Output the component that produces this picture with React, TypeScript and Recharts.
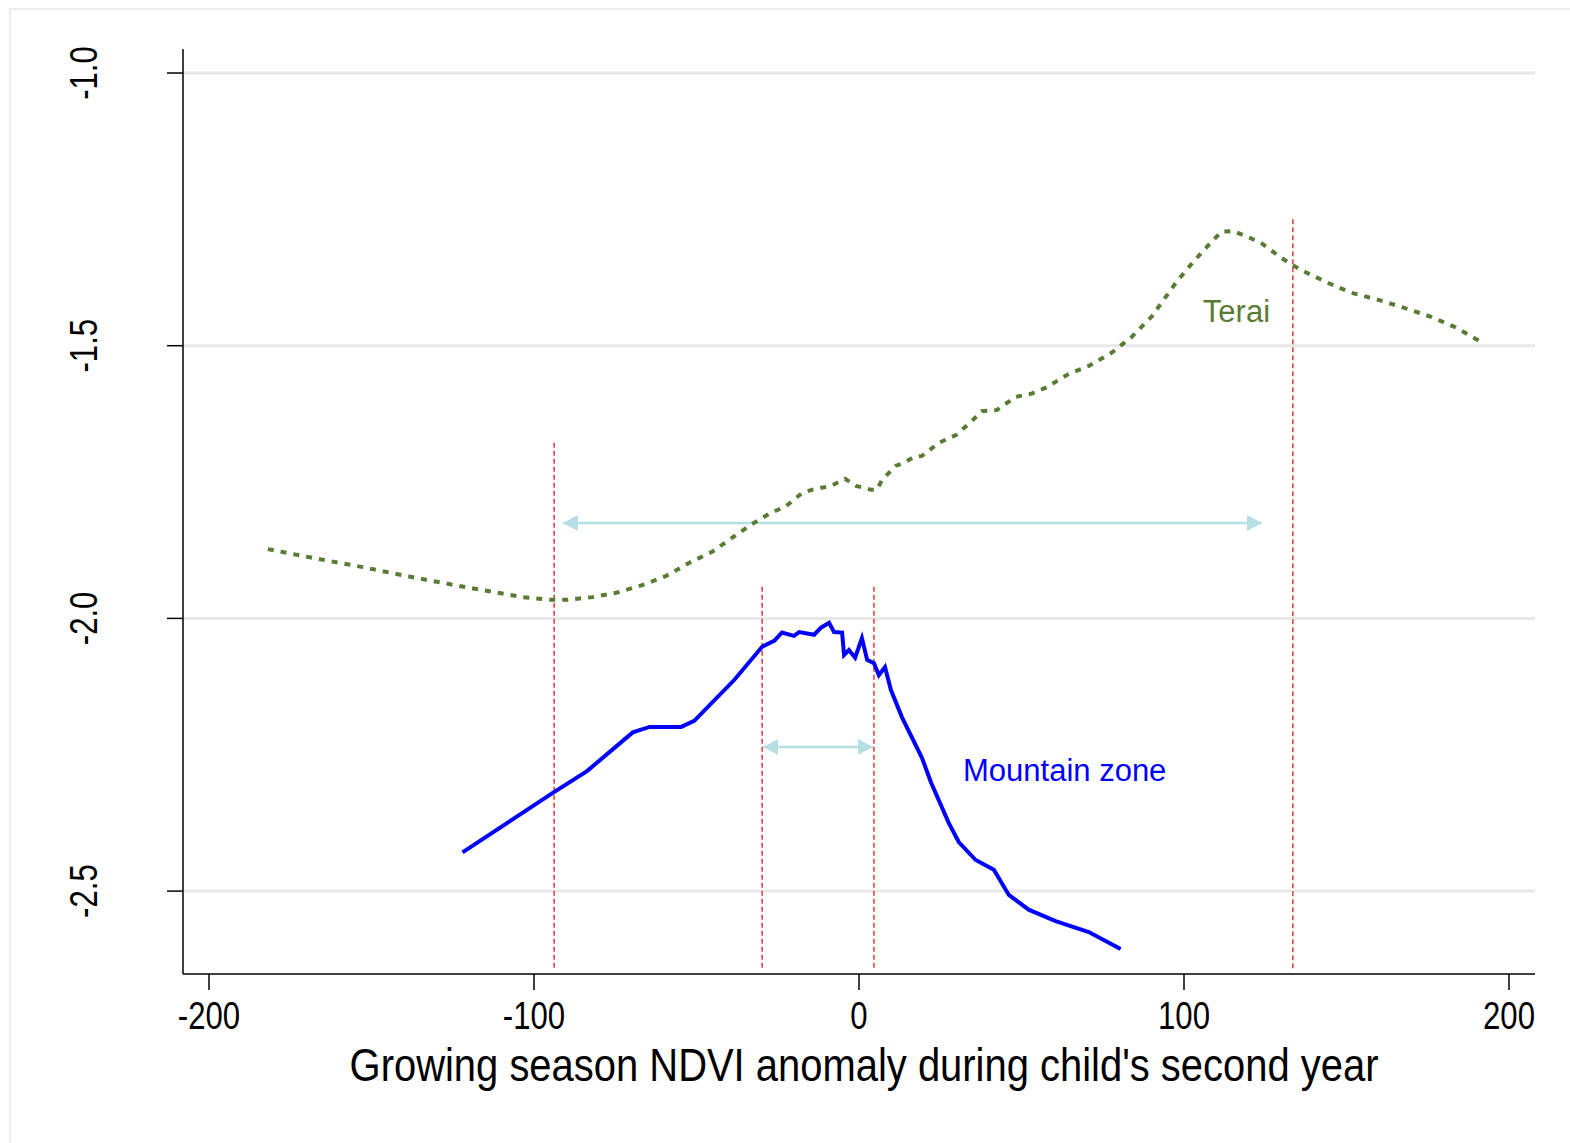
import React from "react";
import {
  LineChart,
  Line,
  XAxis,
  YAxis,
  ReferenceLine,
  ReferenceDot,
} from "recharts";

// NDVI anomaly (x) and fitted outcome (y)
const teraiX = [
  -181.9, -169.0, -152.7, -136.1, -119.8, -103.5, -95.2, -90.0, -82.0, -74.7,
  -66.7, -59.3, -52.2, -45.2, -39.0, -32.9, -27.6, -22.4, -17.5, -14.4, -8.6,
  -4.3, -0.9, 3.7, 5.5, 7.1, 11.4, 13.8, 16.9, 19.4, 24.6, 29.8, 34.4, 37.8,
  42.4, 48.2, 53.1, 57.5, 64.5, 70.7, 77.7, 83.9, 90.0, 97.7, 102.9, 108.4,
  111.5, 115.2, 119.8, 123.8, 130.0, 133.3, 137.3, 144.4, 151.5, 159.8, 168.0,
  176.0, 183.4, 191.4,
];
const teraiY = [
  -1.873, -1.888, -1.906, -1.926, -1.944, -1.961, -1.966, -1.966, -1.961,
  -1.953, -1.939, -1.922, -1.898, -1.878, -1.852, -1.827, -1.808, -1.794,
  -1.77, -1.764, -1.757, -1.744, -1.757, -1.764, -1.764, -1.746, -1.72, -1.715,
  -1.704, -1.702, -1.678, -1.664, -1.64, -1.62, -1.618, -1.594, -1.588, -1.577,
  -1.552, -1.537, -1.513, -1.484, -1.447, -1.383, -1.346, -1.31, -1.291, -1.29,
  -1.301, -1.312, -1.339, -1.352, -1.365, -1.385, -1.403, -1.416, -1.431,
  -1.447, -1.466, -1.493,
];

const mountainX = [
  -122.0, -94.2, -83.7, -69.6, -64.4, -54.7, -50.7, -38.4, -29.8, -26.1, -23.7,
  -20.0, -18.4, -13.8, -11.7, -9.2, -7.7, -5.2, -4.6, -3.1, -1.2, 0.9, 2.5, 4.6,
  6.1, 8.0, 9.8, 13.2, 19.4, 22.1, 27.6, 30.7, 35.9, 41.5, 46.1, 52.2, 60.5,
  70.7, 80.5,
];
const mountainY = [
  -2.429, -2.32, -2.28, -2.209, -2.199, -2.199, -2.188, -2.113, -2.052, -2.041,
  -2.026, -2.032, -2.025, -2.03, -2.017, -2.008, -2.025, -2.026, -2.067,
  -2.058, -2.072, -2.036, -2.076, -2.082, -2.104, -2.089, -2.131, -2.181,
  -2.256, -2.3, -2.375, -2.41, -2.443, -2.461, -2.507, -2.534, -2.555, -2.575,
  -2.606,
];

const xTicks = [-200, -100, 0, 100, 200];
const yTicks = [-2.5, -2.0, -1.5, -1.0];

// vertical dashed markers: [x, top y]
const markers = [
  [-93.8, -1.678],
  [-29.8, -1.942],
  [4.6, -1.942],
  [133.5, -1.268],
];
const markerBottom = -2.645;

// range arrows: [from x, to x, y]
const arrows = [
  [-91.1, 124.0, -1.825],
  [-29.5, 4.3, -2.236],
];

const terai = teraiX.map((x, i) => ({ x, y: teraiY[i] }));
const mountain = mountainX.map((x, i) => ({ x, y: mountainY[i] }));

const sans = "'Liberation Sans', Arial, sans-serif";
const arrowColor = "#b5dfe3";

// Stata's axis font is a condensed Helvetica; squeeze Liberation Sans to match
const YTick = (props: any) => {
  const { x, y, payload } = props;
  return (
    <text
      transform={`translate(${x}, ${y}) rotate(-90) scale(0.82, 1)`}
      textAnchor="middle"
      fontFamily={sans}
      fontSize={38}
      fill="#000"
    >
      {payload.value.toFixed(1)}
    </text>
  );
};

const XTick = (props: any) => {
  const { x, y, payload } = props;
  return (
    <text
      transform={`translate(${x}, ${y}) scale(0.82, 1)`}
      textAnchor="middle"
      dy="0.71em"
      fontFamily={sans}
      fontSize={38}
      fill="#000"
    >
      {payload.value}
    </text>
  );
};

const XTitle = (props: any) => {
  const { x, y, width, height } = props.viewBox;
  return (
    <text
      transform={`translate(${x + width / 2 + 5}, ${y + height - 62}) scale(0.85, 1)`}
      textAnchor="middle"
      fontFamily={sans}
      fontSize={47}
      fill="#000"
    >
      Growing season NDVI anomaly during child's second year
    </text>
  );
};

const head = (dir: number) => (p: any) => {
  const { cx, cy } = p;
  if (cx == null) return null;
  const b = cx + dir * 15;
  return (
    <polygon
      points={`${cx},${cy} ${b},${cy - 8} ${b},${cy + 8}`}
      fill={arrowColor}
    />
  );
};

const note = (text: string, color: string) => (p: any) => (
  <text x={p.cx} y={p.cy} fill={color} fontFamily={sans} fontSize={31}>
    {text}
  </text>
);

export default function App() {
  return (
    <div
      style={{
        position: "absolute",
        left: 0,
        top: 0,
        width: 1570,
        height: 1143,
        background: "#fff",
        overflow: "hidden",
      }}
    >
      <div
        style={{
          position: "absolute",
          left: 9,
          top: 8,
          width: 1570,
          height: 1143,
          border: "2px solid #ececec",
        }}
      />
      <LineChart
        width={1570}
        height={1143}
        margin={{ top: 49, right: 35, bottom: 0, left: 83 }}
        style={{ position: "absolute", left: 0, top: 0 }}
      >
        <XAxis
          type="number"
          dataKey="x"
          domain={[-208, 208]}
          ticks={xTicks}
          allowDataOverflow
          height={169}
          tickSize={16}
          tickMargin={12}
          axisLine={{ stroke: "#000", strokeWidth: 1.5 }}
          tickLine={{ stroke: "#000", strokeWidth: 1.5 }}
          tick={<XTick />}
          label={<XTitle />}
        />
        <YAxis
          type="number"
          domain={[-2.652, -0.956]}
          ticks={yTicks}
          allowDataOverflow
          width={100}
          tickSize={16}
          tickMargin={70}
          axisLine={{ stroke: "#000", strokeWidth: 1.5 }}
          tickLine={{ stroke: "#000", strokeWidth: 1.5 }}
          tick={<YTick />}
        />
        {yTicks.map((y) => (
          <ReferenceLine key={"g" + y} y={y} stroke="#e8e8e8" strokeWidth={3} />
        ))}
        {markers.map(([x, top], i) => (
          <ReferenceLine
            key={"m" + i}
            segment={[
              { x, y: top },
              { x, y: markerBottom },
            ]}
            stroke="#e0383c"
            strokeWidth={1.5}
            strokeDasharray="5 3"
          />
        ))}
        {arrows.map(([a, b, y], i) => (
          <ReferenceLine
            key={"a" + i}
            segment={[
              { x: a, y },
              { x: b, y },
            ]}
            stroke={arrowColor}
            strokeWidth={2.5}
          />
        ))}
        {arrows.map(([a, , y], i) => (
          <ReferenceDot key={"l" + i} x={a} y={y} r={1} shape={head(1)} />
        ))}
        {arrows.map(([, b, y], i) => (
          <ReferenceDot key={"r" + i} x={b} y={y} r={1} shape={head(-1)} />
        ))}
        <Line
          data={terai}
          dataKey="y"
          type="linear"
          stroke="#5a7b34"
          strokeWidth={4}
          strokeDasharray="6 7"
          dot={false}
          isAnimationActive={false}
        />
        <Line
          data={mountain}
          dataKey="y"
          type="linear"
          stroke="#0000ff"
          strokeWidth={4}
          dot={false}
          isAnimationActive={false}
        />
        <ReferenceDot x={105.8} y={-1.457} r={1} shape={note("Terai", "#5a7b34")} />
        <ReferenceDot
          x={32.0}
          y={-2.298}
          r={1}
          shape={note("Mountain zone", "#0000ff")}
        />
      </LineChart>
    </div>
  );
}
